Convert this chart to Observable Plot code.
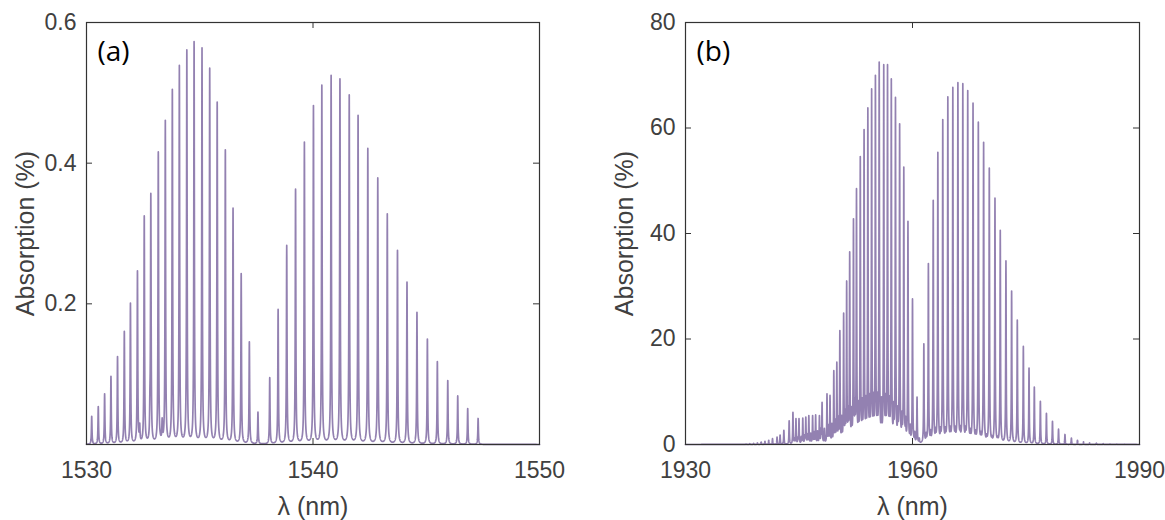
<!DOCTYPE html>
<html><head><meta charset="utf-8">
<script src="https://cdn.jsdelivr.net/npm/d3@7"></script>
<script src="https://cdn.jsdelivr.net/npm/@observablehq/plot@0.6"></script>
<style>
body{margin:0;background:#fff;}
#wrap{position:relative;width:1165px;height:520px;overflow:hidden;}
#wrap svg{position:absolute;top:0;}
</style></head><body><div id="wrap"></div>
<script>
// ---------- Panel (a): 1530-1550 nm ----------
const aLineNm  = [1530.23,1530.52,1530.80,1531.08,1531.37,1531.67,1531.94,1532.25,1532.55,1532.84,1533.17,1533.48,1533.79,1534.10,1534.43,1534.75,1535.10,1535.44,1535.77,1536.13,1536.47,1536.83,1537.19,1537.57,
                  1538.09,1538.46,1538.84,1539.23,1539.62,1540.02,1540.39,1540.80,1541.19,1541.60,1541.99,1542.42,1542.86,1543.28,1543.73,1544.15,1544.59,1545.05,1545.49,1545.95,1546.39,1546.83,1547.29];
const aLineAbs = [0.040,0.054,0.072,0.097,0.125,0.161,0.201,0.247,0.325,0.357,0.416,0.461,0.505,0.539,0.561,0.573,0.564,0.535,0.487,0.419,0.336,0.243,0.146,0.046,
                  0.095,0.192,0.283,0.363,0.430,0.482,0.511,0.525,0.520,0.497,0.468,0.421,0.379,0.328,0.276,0.231,0.188,0.150,0.118,0.091,0.069,0.051,0.037];
const aHotNm  = [1532.35,1532.80,1533.34];
const aHotAbs = [0.022,0.035,0.028];
const aTicksX = [1530,1540,1550];
const aTicksY = [0.2,0.4,0.6];

// ---------- Panel (b): 1930-1990 nm ----------
const bLineNm  = [1938.0,1938.5,1939.0,1939.5,1940.0,1940.5,1941.0,1941.5,1942.1,1942.5,1943.0,1943.7,1944.2,1944.6,1945.0,1945.5,1945.9,1946.3,1946.8,1947.2,1947.7,
                  1948.05,1948.7,1949.1,1949.6,1950.0,1950.4,1950.9,1951.3,1951.7,1952.2,1952.6,1953.1,1953.6,1954.1,1954.6,1955.1,1955.6,1956.2,1956.7,1957.2,1957.75,1958.3,1958.85,1959.4,1960.0,1960.6,
                  1961.5,1962.1,1962.74,1963.35,1964.0,1964.67,1965.33,1966.0,1966.65,1967.3,1968.0,1968.7,1969.4,1970.15,1970.9,1971.6,1972.35,1973.1,1973.85,1974.65,1975.4,1976.1,1976.9,1977.7,1978.5,1979.3,1980.15,1981.0,1981.8,1982.6,1983.4,1984.3,1985.2,1986.1,1987.0,1988.0,1989.0];
const bLineAbs = [0.1,0.15,0.2,0.3,0.45,0.6,0.8,1.1,1.4,1.8,2.7,4.5,6.1,4.9,4.9,5.0,5.2,5.5,5.5,5.6,5.5,
                  8.0,9.6,9.3,14.0,15.6,21.6,24.9,31.0,36.5,42.8,48.5,54.6,59.7,63.8,67.4,70.0,72.5,72.0,72.0,69.3,65.8,60.8,52.6,42.3,27.6,9.0,
                  19.1,34.3,46.3,55.4,61.6,65.9,67.7,68.6,68.4,67.1,64.7,61.1,57.3,52.4,46.7,40.6,34.8,29.1,23.6,18.6,14.5,10.9,8.2,5.9,4.4,2.9,1.9,1.2,0.8,0.5,0.3,0.25,0.15,0.1,0.08,0.06,0.05];
const bHotNm  = [1944.4,1944.85,1945.3,1945.75,1946.1,1946.55,1947.0,1947.45,1947.9,1948.35,1948.9,1949.35,1949.8,1950.2,1950.65,1951.1,1951.5,1951.95,1952.4,1952.85,1953.35,1953.85,1954.35,1954.85,1955.35,1955.9,1956.45,1956.95,1957.5,1958.05,1958.6,1959.1,1959.7,1960.3,1960.9,
                 1961.8,1962.4,1963.05,1963.7,1964.35,1965.0,1965.65,1966.3,1967.0,1967.65,1968.35,1969.05,1969.8,1970.5,1971.25];
const bHotAbs = [0.8,1.0,1.2,1.4,1.6,1.8,2.0,2.2,2.4,2.7,3.0,3.3,3.6,3.9,4.2,4.5,4.8,5.1,5.4,5.7,6.0,6.2,6.4,6.5,6.5,6.4,6.2,5.8,5.3,4.7,4.0,3.3,2.6,1.7,0.8,
                 1.3,1.6,1.6,1.6,1.6,1.6,1.6,1.6,1.5,1.4,1.2,1.0,0.8,0.6,0.5];
const bTicksX = [1930,1960,1990];
const bTicksY = [0,20,40,60,80];

const LINE = "#9381b1", INK = "#404040", FRAME = "#333";

// Lorentzian line profile: amplitudes adjusted so that the curve passes through each read peak value
function spectrum(centers, peaks, hotC, hotH, gamma, x0, x1, step) {
  const g2 = gamma * gamma;
  const C = centers.concat(hotC);
  const amp = peaks.concat(hotH);
  const f = x => { let y = 0; for (let i = 0; i < C.length; i++) { const d = x - C[i]; y += amp[i] * g2 / (d * d + g2); } return y; };
  for (let it = 0; it < 8; it++) {
    const vals = centers.map(f);
    centers.forEach((c, i) => { amp[i] = Math.max(0, amp[i] + (peaks[i] - vals[i])); });
  }
  const xs = d3.range(x0, x1 + step / 2, step).concat(C.filter(c => c >= x0 && c <= x1)).sort((a, b) => a - b);
  return xs.map(x => ({x, y: f(x)}));
}

function panel({data, xDom, yDom, xTicks, yTicks, yFmt, width, mLeft, mRight, tag}) {
  const mTop = 22, mBottom = 76, H = 520;
  const ph = H - mTop - mBottom, pw = width - mLeft - mRight;
  const yl = (yDom[1] - yDom[0]) * 6 / ph, xl = (xDom[1] - xDom[0]) * 6 / pw;
  return Plot.plot({
    width, height: H, marginLeft: mLeft, marginRight: mRight, marginTop: mTop, marginBottom: mBottom,
    style: {fontFamily: "'Liberation Sans', Arial, sans-serif", fontSize: "23px", color: INK, background: "#fff", overflow: "visible"},
    x: {domain: xDom},
    y: {domain: yDom},
    marks: [
      Plot.line(data, {x: "x", y: "y", stroke: LINE, strokeWidth: 1.7}),
      Plot.frame({stroke: FRAME, strokeWidth: 1.2}),
      Plot.ruleX(xTicks, {x: d => d, y1: yDom[0], y2: yDom[0] + yl, stroke: FRAME}),
      Plot.ruleX(xTicks, {x: d => d, y1: yDom[1] - yl, y2: yDom[1], stroke: FRAME}),
      Plot.ruleY(yTicks, {y: d => d, x1: xDom[0], x2: xDom[0] + xl, stroke: FRAME}),
      Plot.ruleY(yTicks, {y: d => d, x1: xDom[1] - xl, x2: xDom[1], stroke: FRAME}),
      Plot.axisX(xTicks, {tickSize: 0, tickPadding: 17, label: null, fontSize: 23, tickFormat: d => String(d)}),
      Plot.axisY(yTicks, {tickSize: 0, tickPadding: 10, label: null, fontSize: 23, tickFormat: yFmt}),
      Plot.text(["λ (nm)"], {frameAnchor: "bottom", dy: 62, lineAnchor: "middle", fontSize: 25, fill: INK}),
      Plot.text(["Absorption (%)"], {frameAnchor: "left", dx: -61, rotate: -90, textAnchor: "middle", lineAnchor: "middle", fontSize: 25, fill: INK}),
      Plot.text([tag], {frameAnchor: "top-left", dx: 11, dy: 30, textAnchor: "start", lineAnchor: "middle", fontSize: 28, fontFamily: "'Open Sans', sans-serif", fill: "#000"})
    ]
  });
}

const dataA = spectrum(aLineNm, aLineAbs, aHotNm, aHotAbs, 0.015, 1530, 1550, 0.004);
const dataB = spectrum(bLineNm, bLineAbs, bHotNm, bHotAbs, 0.036, 1930, 1990, 0.01);

const wrap = document.getElementById("wrap");
const svgA = panel({data: dataA, xDom: [1530, 1550], yDom: [0, 0.6], xTicks: aTicksX, yTicks: aTicksY, yFmt: d => d.toFixed(1), width: 582, mLeft: 86, mRight: 43, tag: "(a)"});
svgA.style.left = "0px";
const svgB = panel({data: dataB, xDom: [1930, 1990], yDom: [0, 80], xTicks: bTicksX, yTicks: bTicksY, yFmt: d => String(d), width: 583, mLeft: 103, mRight: 26, tag: "(b)"});
svgB.style.left = "582px";
wrap.append(svgA, svgB);
</script></body></html>
